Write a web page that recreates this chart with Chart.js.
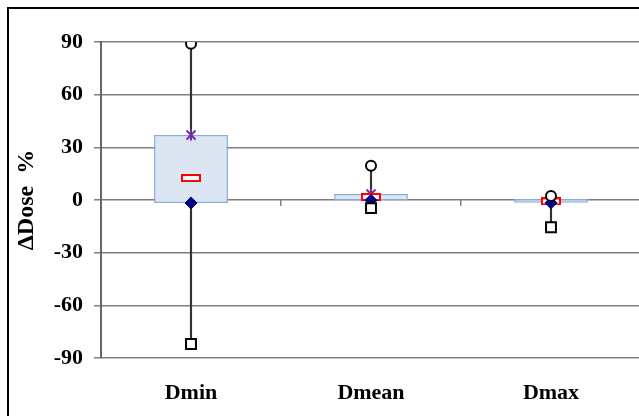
<!DOCTYPE html>
<html>
<head>
<meta charset="utf-8">
<script src="https://cdn.jsdelivr.net/npm/chart.js@4/dist/chart.umd.min.js"></script>
<style>
  html, body { margin: 0; padding: 0; background: #fff; overflow: hidden; }
  #moldura { position: absolute; left: 7px; top: 7px; width: 700px; height: 500px; border: 2px solid #000; }
  #grafico { position: absolute; left: 0; top: 0; }
</style>
</head>
<body>
<div id="moldura"></div>
<canvas id="grafico" width="650" height="416"></canvas>
<script>
const categorias = ['Dmin', 'Dmean', 'Dmax'];
const valoresMax = [89, 19.5, 2.3];
const valoresQ3 = [37, 3.4, 0.5];
const valoresMediana = [12.5, 1.7, -0.8];
const valoresQ1 = [-1.7, -0.2, -1.6];
const valoresMin = [-82, -4.6, -15.5];
const ticksY = [-90, -60, -30, 0, 30, 60, 90];

const corGrade = '#7f7f7f';
const familia = '"Liberation Serif", "Times New Roman", serif';
const fonte = { family: familia, size: 22, weight: 'bold' };

// marcador da mediana: retangulo vermelho vazado
function criaMarcadorMediana() {
  const c = document.createElement('canvas');
  c.width = 20; c.height = 8;
  const ctx = c.getContext('2d');
  ctx.fillStyle = '#fff';
  ctx.fillRect(1, 1, 18, 6);
  ctx.strokeStyle = '#ff0000';
  ctx.lineWidth = 2;
  ctx.strokeRect(1, 1, 18, 6);
  return c;
}

// marcador estrela do Excel (X com traco vertical)
function criaMarcadorEstrela() {
  const c = document.createElement('canvas');
  c.width = 14; c.height = 14;
  const ctx = c.getContext('2d');
  ctx.strokeStyle = '#7030a0';
  ctx.lineWidth = 2;
  ctx.beginPath();
  ctx.moveTo(2.5, 2.5); ctx.lineTo(11.5, 11.5);
  ctx.moveTo(11.5, 2.5); ctx.lineTo(2.5, 11.5);
  ctx.moveTo(7, 1.5); ctx.lineTo(7, 12.5);
  ctx.stroke();
  return c;
}

function pontos(valores, estilo, extra) {
  return Object.assign({
    type: 'line',
    data: valores,
    showLine: false,
    pointStyle: estilo,
    order: 0
  }, extra);
}

const data = {
  labels: categorias,
  datasets: [
    pontos(valoresMax, 'circle', { pointRadius: 5, pointBorderWidth: 2, pointBorderColor: '#000', pointBackgroundColor: '#fff' }),
    pontos(valoresMin, 'rect', { pointRadius: 7, pointBorderWidth: 2, pointBorderColor: '#000', pointBackgroundColor: '#fff' }),
    pontos(valoresQ1, 'rectRot', { pointRadius: 6, pointBorderWidth: 1, pointBorderColor: '#000080', pointBackgroundColor: '#000080' }),
    pontos(valoresMediana, criaMarcadorMediana(), {}),
    pontos(valoresQ3, criaMarcadorEstrela(), {}),
    {
      type: 'bar',
      data: valoresQ1.map((q1, i) => [q1, valoresQ3[i]]),
      backgroundColor: '#dce6f2',
      borderColor: '#86acdb',
      borderWidth: 1.5,
      borderSkipped: false,
      barPercentage: 0.41,
      categoryPercentage: 1,
      grouped: false,
      order: 1
    },
    {
      type: 'bar',
      data: valoresMin.map((m, i) => [m, valoresMax[i]]),
      backgroundColor: '#333',
      barThickness: 1.5,
      grouped: false,
      order: 2
    }
  ]
};

new Chart(document.getElementById('grafico'), {
  type: 'bar',
  data: data,
  options: {
    responsive: false,
    animation: false,
    layout: { padding: { top: 42, right: 0, bottom: 0, left: 0 } },
    plugins: { legend: { display: false }, tooltip: { enabled: false } },
    scales: {
      x: {
        grid: { display: false },
        border: { display: false },
        ticks: { color: '#000', font: fonte, padding: 14 },
        afterFit: (scale) => { scale.height = 58; }
      },
      xZero: {
        type: 'category',
        position: { y: 0 },
        offset: true,
        grid: { offset: true, drawOnChartArea: false, drawTicks: true, tickLength: 6, color: corGrade, lineWidth: 1.5 },
        border: { display: false },
        ticks: { display: false }
      },
      y: {
        min: -90,
        max: 90,
        afterBuildTicks: (scale) => { scale.ticks = ticksY.map(v => ({ value: v })); },
        grid: { color: corGrade, lineWidth: 1.5, tickLength: 7, drawTicks: true },
        border: { color: '#666', width: 2 },
        ticks: { color: '#000', font: fonte, padding: 11 },
        title: { display: true, text: 'ΔDose  %', color: '#000', font: { family: familia, size: 24, weight: 'bold' }, padding: { top: 12, bottom: 0 } },
        afterFit: (scale) => { scale.width = 101; }
      }
    }
  }
});
</script>
</body>
</html>
